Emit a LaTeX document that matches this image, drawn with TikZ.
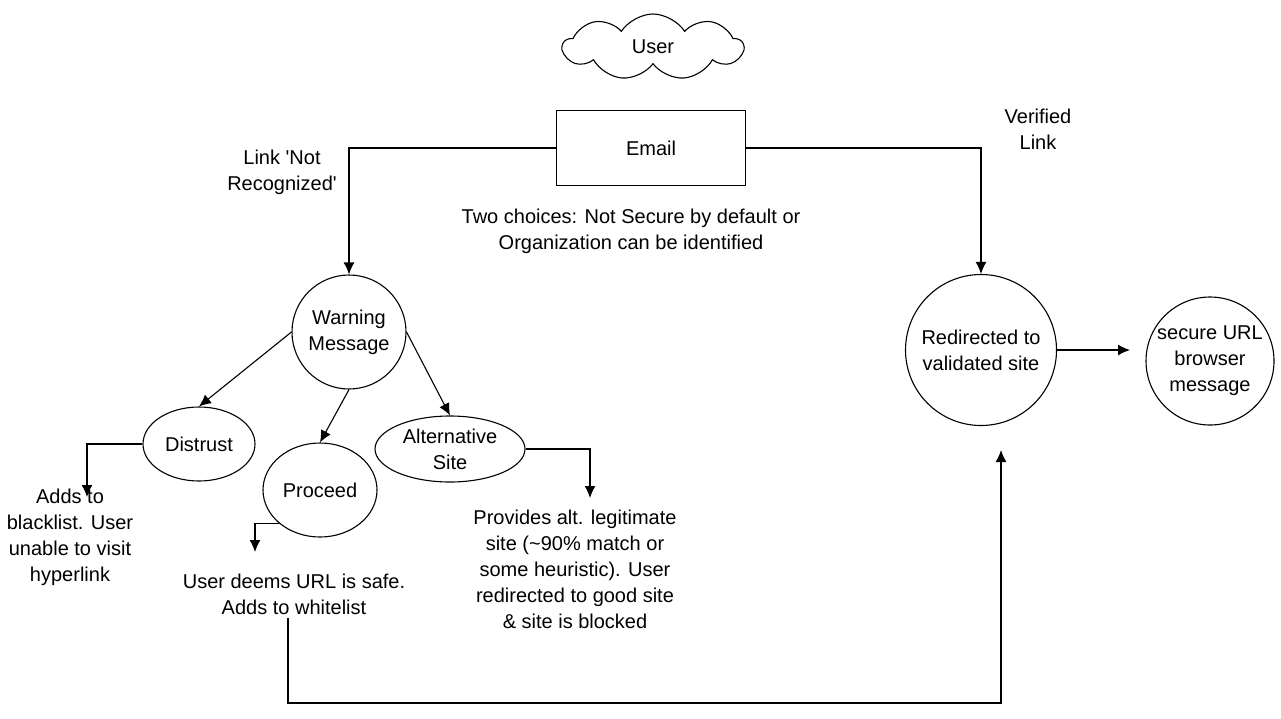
\documentclass[tikz,border=0pt]{standalone}
\usepackage{fontspec}
\setmainfont{Liberation Sans}
\usepackage{tikz}
\usetikzlibrary{calc,shapes,arrows.meta}

\begin{document}
\begin{tikzpicture}[x=1pt,y=-1pt,
    every node/.style={font=\fontsize{20}{26}\selectfont, align=center},
    shp/.style={draw, line width=1.1pt},
    lnk/.style={line width=1.3pt, -{Latex[length=12pt,width=11pt]}}]
  \useasboundingbox (0,0) rectangle (1281,718);

  %% Top: user and the email
  \node[shp, cloud, cloud puffs=9, cloud puff arc=115, aspect=2.8,
        minimum width=180, minimum height=66, inner sep=0pt] (USER) at (653,47) {User};
  \node[shp, rectangle, minimum width=189, minimum height=75] (EMAIL) at (651,148) {Email};
  \node (NOTREC) at (282,172) {Link \textquotesingle Not\\Recognized\textquotesingle};
  \node (CHOICES) at (631,231) {Two choices: Not Secure by default or\\Organization can be identified};
  \node (VERIFIED) at (1038,129) {Verified\\Link};

  %% Left branch: the warning and its three outcomes
  \node[shp, circle, minimum size=114, inner sep=0pt] (WARN) at (349,332) {Warning\\Message};
  \node[shp, ellipse, minimum width=112, minimum height=74, inner sep=0pt] (DISTRUST) at (199,444) {Distrust};
  \node[shp, ellipse, minimum width=114, minimum height=94, inner sep=0pt] (PROCEED) at (320,490) {Proceed};
  \node[shp, ellipse, minimum width=150, minimum height=66, inner sep=-4pt] (ALTSITE) at (450,449) {Alternative\\Site};

  \node (BLACK) at (70,537) {Adds to\\blacklist. User\\unable to visit\\hyperlink};
  \node (WHITE) at (294,594) {User deems URL is safe.\\Adds to whitelist};
  \node (ALTTXT) at (575,569) {Provides alt. legitimate\\site (\textasciitilde90\% match or\\some heuristic). User\\redirected to good site\\\& site is blocked};

  %% Right branch
  \node[shp, circle, minimum size=151, inner sep=0pt] (REDIR) at (981,350) {Redirected to\\validated site};
  \node[shp, circle, minimum size=128, inner sep=-6pt] (SECURE) at (1210,361) {secure URL\\browser\\message};

  %% Free ends of connectors
  \coordinate (BLTIP) at (87,497);
  \coordinate (WLTIP) at (255,552);
  \coordinate (ALTTIP) at (590,498);
  \coordinate (SECTIP) at (1130,350);
  \coordinate (LOOPBOT) at (288,703);
  \coordinate (REDTIP) at (1001,450);

  %% Connectors
  \draw[lnk] (EMAIL.west) -| (WARN.north);
  \draw[lnk] (EMAIL.east) -| (REDIR.north);
  \foreach \a/\b in {west/DISTRUST, south/PROCEED, east/ALTSITE}
  {
    \draw[lnk, line width=1.1pt] (WARN.\a) -- (\b.north);
  }
  \draw[lnk] (DISTRUST.west) -| (BLTIP);
  \draw[lnk] (PROCEED.south west) -| (WLTIP);
  \draw[lnk] (ALTSITE.east) -| (ALTTIP);
  \draw[lnk] (REDIR.east) -- (SECTIP);
  \draw[lnk] (WHITE.south -| LOOPBOT) -- (LOOPBOT) -| (REDTIP);

\end{tikzpicture}
\end{document}
